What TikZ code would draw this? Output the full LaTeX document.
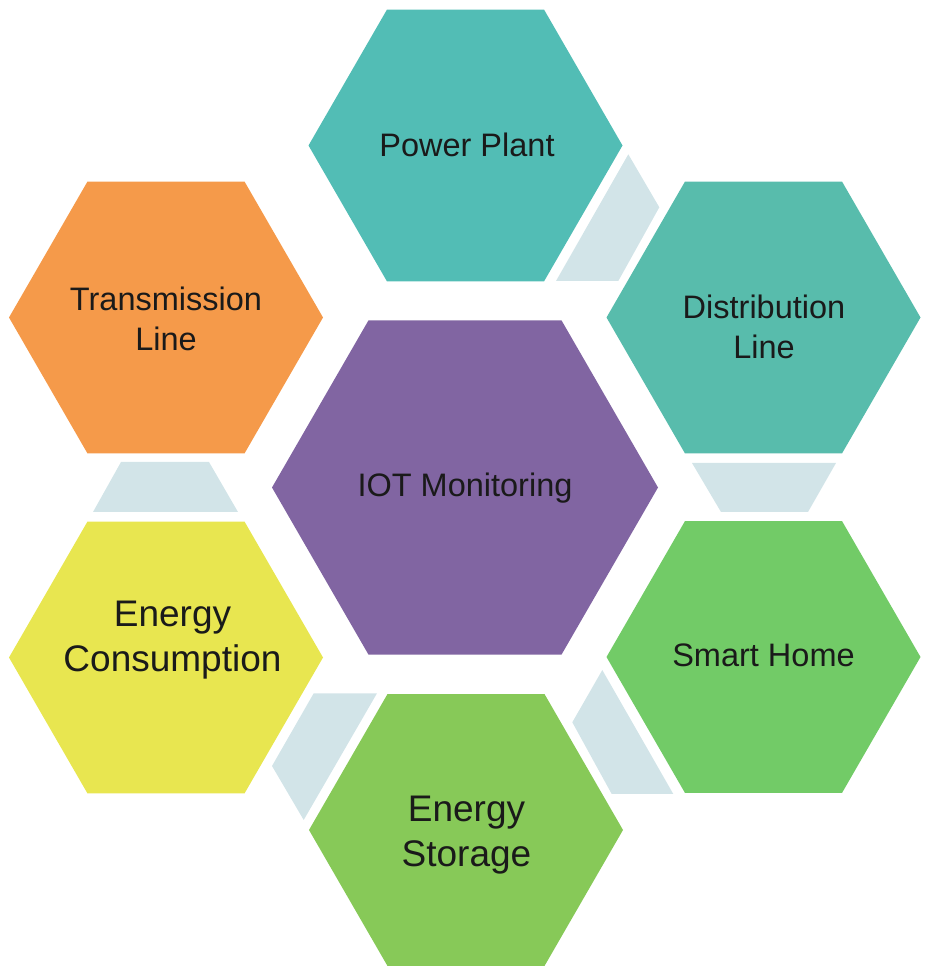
\documentclass[tikz,border=0pt]{standalone}
\usepackage{fontspec}
\setmainfont{Liberation Sans}
\usetikzlibrary{shapes.geometric}
\definecolor{ppcol}{RGB}{82,189,181}
\definecolor{dlcol}{RGB}{88,188,172}
\definecolor{tlcol}{RGB}{245,154,74}
\definecolor{iotcol}{RGB}{129,101,162}
\definecolor{eccol}{RGB}{232,230,80}
\definecolor{shcol}{RGB}{114,203,103}
\definecolor{escol}{RGB}{135,201,88}
\definecolor{conncol}{RGB}{210,228,232}
\definecolor{txtcol}{RGB}{26,26,26}
\begin{document}
\begin{tikzpicture}[x=1pt,y=1pt,
  hexo/.style={regular polygon, regular polygon sides=6,
    minimum size=314pt, inner sep=0pt, outer sep=0pt, draw=none},
  hexc/.style={hexo, minimum size=386pt},
  lbl/.style={font=\fontsize{32.5}{40}\selectfont, text=txtcol, align=center, inner sep=0pt},
  lblbig/.style={font=\fontsize{37}{45}\selectfont, text=txtcol, align=center, inner sep=0pt},
  conn/.style={fill=conncol, draw=none}]
\useasboundingbox (0,0) rectangle (934,975);
% hexagons
\node[hexc, fill=iotcol] (iot) at (465,487.5) {};
\node[hexo, fill=ppcol]  (pp)  at (465.5,829.5) {};
\node[hexo, fill=dlcol]  (dl)  at (763.5,657.5) {};
\node[hexo, fill=shcol]  (sh)  at (763.5,318) {};
\node[hexo, fill=escol]  (es)  at (466,145) {};
\node[hexo, fill=eccol]  (ec)  at (166,317.5) {};
\node[hexo, fill=tlcol]  (tl)  at (166,657.5) {};
% connectors
\fill[conn] (628.3,820.7) -- (659.3,767.7) -- (618.3,694) -- (556,694) -- cycle;
\fill[conn] (692,512) -- (836,512) -- (808,463) -- (721,463) -- cycle;
\fill[conn] (602.3,305) -- (572.3,252.7) -- (611.7,181) -- (673.3,181) -- cycle;
\fill[conn] (313.7,281.7) -- (377,281.7) -- (303.7,155) -- (272,209) -- cycle;
\fill[conn] (121,513) -- (209,513) -- (238,463) -- (93,463) -- cycle;
% labels
\node[lbl, anchor=base] (iott) at (465,478) {IOT Monitoring};
\node[lbl, anchor=base] (ppt) at (467,818) {Power Plant};
\node[lbl] (dlt) at (764,648.6) {Distribution\\Line};
\node[lbl] (tlt) at (166,656.6) {Transmission\\Line};
\node[lbl, anchor=base] (sht) at (763.5,308) {Smart Home};
\node[lblbig] (ect) at (172.5,334.8) {Energy\\Consumption};
\node[lblbig] (est) at (466.5,139.8) {Energy\\Storage};
\end{tikzpicture}
\end{document}
